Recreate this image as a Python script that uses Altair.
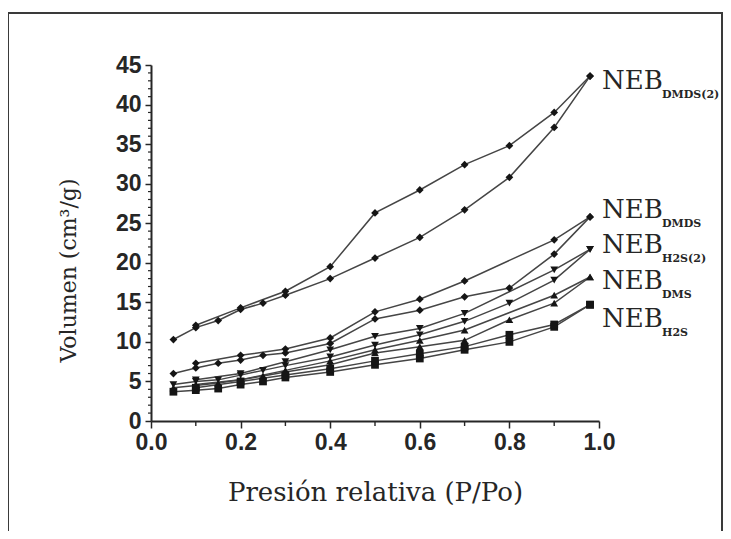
import altair as alt
import pandas as pd

# ---- data ----
series_names = ["DMDS(2)", "DMDS", "H2S(2)", "DMS", "H2S"]

x_ads = [0.05, 0.1, 0.15, 0.2, 0.25, 0.3, 0.4, 0.5, 0.6, 0.7, 0.8, 0.9, 0.98]
x_des_full = [0.98, 0.9, 0.8, 0.7, 0.6, 0.5, 0.4, 0.3, 0.2, 0.1]
x_des_short = [0.98, 0.9, 0.7, 0.6, 0.5, 0.4, 0.3, 0.2, 0.1]

dmds2_ads = [10.3, 11.8, 12.7, 14.1, 14.9, 15.9, 18.0, 20.6, 23.2, 26.7, 30.8, 37.1, 43.6]
dmds2_des = [43.6, 39.0, 34.8, 32.4, 29.2, 26.3, 19.5, 16.4, 14.3, 12.1]

dmds_ads = [6.0, 6.7, 7.3, 7.7, 8.3, 8.6, 9.8, 12.9, 14.0, 15.7, 16.8, 21.1, 25.8]
dmds_des = [25.8, 22.9, 17.7, 15.4, 13.8, 10.5, 9.1, 8.3, 7.3]

h2s2_ads = [4.6, 5.0, 5.2, 5.8, 6.4, 7.0, 8.1, 9.6, 10.9, 12.6, 14.9, 17.8, 21.7]
h2s2_des = [21.7, 19.1, 13.6, 11.7, 10.7, 9.0, 7.5, 6.0, 5.2]

dms_ads = [4.2, 4.5, 4.8, 5.2, 5.7, 6.2, 7.1, 8.6, 9.4, 10.2, 12.8, 14.9, 18.2]
dms_des = [18.2, 15.9, 11.5, 10.2, 9.0, 7.6, 6.4, 5.2, 4.6]

h2s_ads = [3.7, 3.9, 4.1, 4.6, 5.0, 5.5, 6.2, 7.1, 7.9, 9.0, 10.0, 11.9, 14.7]
h2s_des = [14.7, 12.2, 10.9, 9.4, 8.5, 7.6, 6.6, 5.8, 5.0, 4.2]

x_major = [0.0, 0.2, 0.4, 0.6, 0.8, 1.0]
x_minor = [0.1, 0.3, 0.5, 0.7, 0.9]
y_major = [0, 5, 10, 15, 20, 25, 30, 35, 40, 45]
y_minor = [v for v in range(0, 46) if v % 5 != 0]

branches = [
    ("DMDS(2)", x_ads, dmds2_ads, x_des_full, dmds2_des),
    ("DMDS", x_ads, dmds_ads, x_des_short, dmds_des),
    ("H2S(2)", x_ads, h2s2_ads, x_des_short, h2s2_des),
    ("DMS", x_ads, dms_ads, x_des_short, dms_des),
    ("H2S", x_ads, h2s_ads, x_des_full, h2s_des),
]

rows = []
for name, xa, ya, xd, yd in branches:
    for i, (xv, yv) in enumerate(zip(xa, ya)):
        rows.append({"series": name, "key": name + "-a", "i": i, "x": xv, "y": yv})
    for i, (xv, yv) in enumerate(zip(xd, yd)):
        rows.append({"series": name, "key": name + "-d", "i": i, "x": xv, "y": yv})
df = pd.DataFrame(rows)

# label anchors: end point of each series
label_df = pd.DataFrame({
    "series": series_names,
    "x": [x_ads[-1]] * 5,
    "y": [dmds2_ads[-1], dmds_ads[-1], h2s2_ads[-1], dms_ads[-1], h2s_ads[-1]],
})
label_dy = {"DMDS(2)": 13, "DMDS": 1, "H2S(2)": 4, "DMS": 12, "H2S": 22}

W, H = 448, 356
xscale = alt.Scale(domain=[0, 1], nice=False, zero=False)
yscale = alt.Scale(domain=[0, 45], nice=False)

INK = "#262626"

x_axis = alt.Axis(
    values=x_major, format=".1f", grid=False, labelFlush=False, labelOverlap=False,
    tickSize=7, tickWidth=1.5, tickColor=INK, domainColor=INK, domainWidth=2,
    labelFont="Liberation Sans", labelFontSize=23, labelFontWeight="bold", labelColor=INK,
    labelPadding=3,
    title="Presión relativa (P/Po)", titleFont="DejaVu Serif", titleFontSize=26,
    titleFontWeight="normal", titleColor=INK, titleX=W / 2, titleY=79,
    titleBaseline="alphabetic", titleAlign="center",
)
y_axis = alt.Axis(
    values=y_major, grid=False, labelFlush=False, labelOverlap=False,
    tickSize=6, tickWidth=1.5, tickColor=INK, domainColor=INK, domainWidth=2,
    labelFont="Liberation Sans", labelFontSize=23, labelFontWeight="bold", labelColor=INK,
    labelPadding=4,
    title="Volumen (cm³/g)", titleFont="DejaVu Serif", titleFontSize=22,
    titleFontWeight="normal", titleColor=INK, titleX=-76, titleY=205,
    titleAngle=270, titleBaseline="alphabetic", titleAlign="center",
)


def X(field):
    return alt.X(field, scale=xscale, axis=x_axis)


def Y(field):
    return alt.Y(field, scale=yscale, axis=y_axis)


base = alt.Chart(df)
lines = base.mark_line(color="#454545", strokeWidth=1.5).encode(
    x=X("x:Q"), y=Y("y:Q"), detail="key:N", order="i:Q")
points = base.mark_point(filled=True, color="#151515", opacity=1, size=60).encode(
    x=X("x:Q"), y=Y("y:Q"),
    shape=alt.Shape("series:N", legend=None, scale=alt.Scale(
        domain=series_names,
        range=["diamond", "diamond", "triangle-down", "triangle-up", "square"])),
)

xminor = alt.Chart(pd.DataFrame({"x": x_minor})).mark_rule(color=INK, strokeWidth=1.4).encode(
    x=X("x:Q"), y=alt.value(H), y2=alt.value(H + 5))
yminor = alt.Chart(pd.DataFrame({"y": y_minor})).mark_rule(color=INK, strokeWidth=1.2).encode(
    y=Y("y:Q"), x=alt.value(-3), x2=alt.value(0))

frame = alt.Chart(alt.Data(values=[{"f": 1}])).mark_rect(
    fillOpacity=0, stroke="#3a3a3a", strokeWidth=2).encode(
    x=alt.value(-143), x2=alt.value(571), y=alt.value(-52), y2=alt.value(480))

layers = [lines, points, xminor, yminor, frame]
for name in series_names:
    d = label_df[label_df.series == name]
    dy = label_dy[name]
    neb = alt.Chart(d).mark_text(
        text="NEB", align="left", baseline="alphabetic", dx=12, dy=dy,
        font="DejaVu Serif", fontSize=26, color=INK).encode(
        x=X("x:Q"), y=Y("y:Q"))
    sub = alt.Chart(d).mark_text(
        align="left", baseline="alphabetic", dx=72, dy=dy + 9,
        font="DejaVu Serif", fontSize=11, fontWeight="bold", color=INK).encode(
        x=X("x:Q"), y=Y("y:Q"), text="series:N")
    layers += [neb, sub]

chart = alt.layer(*layers).properties(
    width=W, height=H,
    autosize=alt.AutoSizeParams(type="none"),
    padding={"left": 143, "top": 57, "right": 124, "bottom": 110},
    background="white",
).configure_view(stroke=None)

chart.save("out.html", embed_options={"renderer": "svg", "actions": False})
